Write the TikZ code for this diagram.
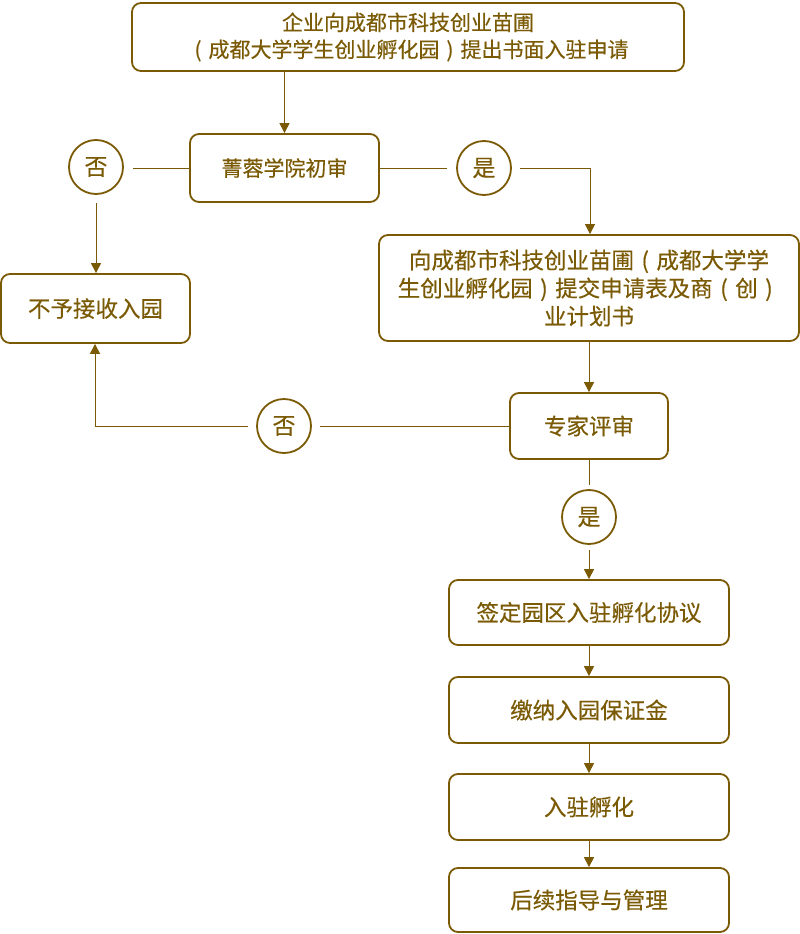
\documentclass[tikz,border=0pt]{standalone}
\usepackage{fontspec}
\setmainfont[FakeBold=0.4,AutoFakeBold=0.4]{Noto Sans CJK SC}
\usetikzlibrary{arrows.meta}
\definecolor{gold}{RGB}{122,90,4}
\newcommand\lpar{\makebox[1em][c]{(}}
\newcommand\rpar{\makebox[1em][c]{)}}
\begin{document}
\begin{tikzpicture}[x=1pt,y=-1pt,
  box/.style={draw=gold,line width=1.8pt,rounded corners=9pt,text=gold,align=center,inner sep=0pt,font=\fontsize{22.5}{28}\selectfont},
  smallfont/.style={font=\fontsize{21}{27}\selectfont},
  yn/.style={draw=gold,line width=1.8pt,circle,minimum size=54pt,inner sep=0pt,text=gold,font=\fontsize{23}{26}\selectfont},
  con/.style={draw=gold,line width=1pt},
  arr/.style={con,-{Triangle[length=10pt,width=10pt]}}]
\useasboundingbox (0,0) rectangle (800,934);
\node[box,smallfont,minimum width=552pt,minimum height=68pt] (apply) at (408,37) {企业向成都市科技创业苗圃\\\lpar 成都大学学生创业孵化园\rpar 提出书面入驻申请};
\node[box,smallfont,minimum width=189pt,minimum height=68pt] (first) at (284.5,168) {菁蓉学院初审};
\node[yn] (no1) at (96,167) {否};
\node[yn] (yes1) at (484,168) {是};
\node[box,minimum width=189pt,minimum height=69pt] (reject) at (95.5,308.5) {不予接收入园};
\node[box,minimum width=420pt,minimum height=106pt] (submit) at (589,288) {向成都市科技创业苗圃\lpar 成都大学学\\生创业孵化园\rpar 提交申请表及商\lpar 创\rpar\\业计划书};
\node[box,minimum width=158pt,minimum height=66pt] (expert) at (589,426) {专家评审};
\node[yn] (no2) at (284,426) {否};
\node[yn] (yes2) at (589,517) {是};
\node[box,minimum width=280pt,minimum height=65pt] (sign) at (589,612.5) {签定园区入驻孵化协议};
\node[box,minimum width=280pt,minimum height=66pt] (pay) at (589,710) {缴纳入园保证金};
\node[box,minimum width=280pt,minimum height=66pt] (incub) at (589,807) {入驻孵化};
\node[box,minimum width=280pt,minimum height=64pt] (follow) at (589,900) {后续指导与管理};
\coordinate (n1a) at (133,168);
\coordinate (n1b) at (96,203);
\coordinate (y1a) at (447,168);
\coordinate (y1b) at (520,168);
\coordinate (y1c) at (590,168);
\coordinate (n2a) at (320,426);
\coordinate (n2b) at (248,426);
\coordinate (n2c) at (95,426);
\coordinate (y2a) at (589,485);
\coordinate (y2b) at (589,550);
\draw[arr] (apply.south -| first) -- (first.north);
\draw[con] (first.west) -- (n1a);
\draw[arr] (n1b) -- (reject.north -| n1b);
\draw[con] (first.east) -- (y1a);
\draw[arr] (y1b) -- (y1c) -- (submit.north -| y1c);
\draw[arr] (submit.south) -- (expert.north);
\draw[con] (expert.west) -- (n2a);
\draw[arr] (n2b) -- (n2c) -- (reject.south -| n2c);
\draw[con] (expert.south) -- (y2a);
\draw[arr] (y2b) -- (sign.north);
\draw[arr] (sign.south) -- (pay.north);
\draw[arr] (pay.south) -- (incub.north);
\draw[arr] (incub.south) -- (follow.north);
\end{tikzpicture}
\end{document}
